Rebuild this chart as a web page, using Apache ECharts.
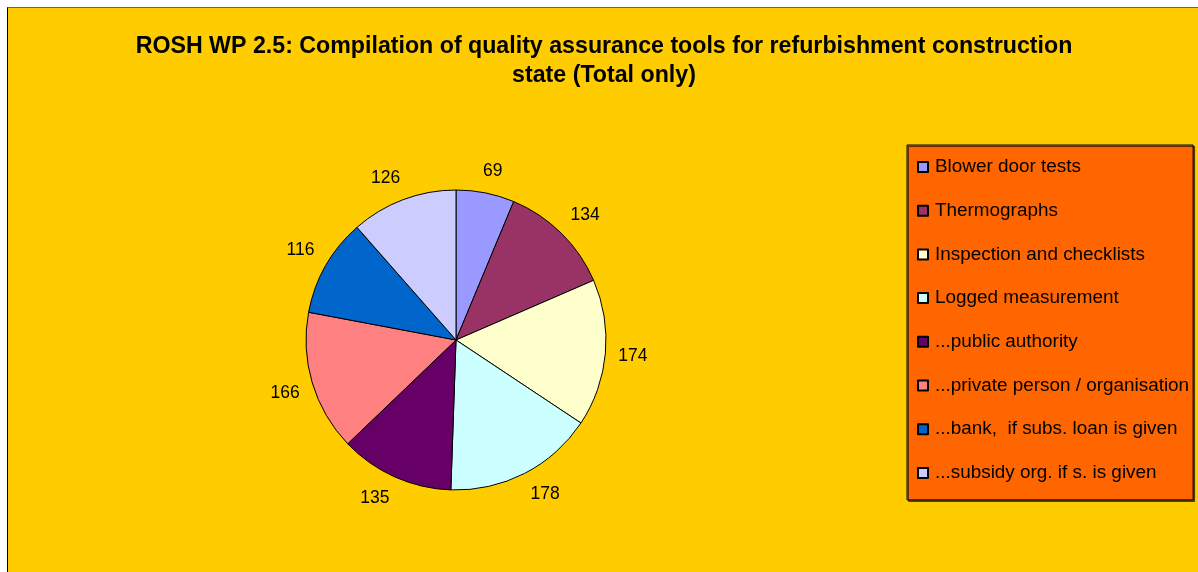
<!DOCTYPE html>
<html>
<head>
<meta charset="utf-8">
<title>ROSH WP 2.5 – quality assurance tools</title>
<script src="https://cdn.jsdelivr.net/npm/echarts@6/dist/echarts.min.js"></script>
<style>
  html, body { margin: 0; padding: 0; background: #ffffff; }
  #frame {
    position: absolute; left: 7px; top: 7px; width: 1200px; height: 580px;
    background: #FFCC00; border-left: 1px solid #000000; border-top: 1px solid #666666;
  }
  #chart { position: absolute; left: 0; top: 0; width: 1198px; height: 572px; }
</style>
</head>
<body>
<div id="frame"></div>
<div id="chart"></div>
<script>
// Survey answers (total only), in clockwise order from 12 o'clock
const categories = [
  'Blower door tests',
  'Thermographs',
  'Inspection and checklists',
  'Logged measurement',
  '...public authority',
  '...private person / organisation',
  '...bank,  if subs. loan is given',
  '...subsidy org. if s. is given'
];
const counts = [69, 134, 174, 178, 135, 166, 116, 126];
const sliceColors = ['#9999FF', '#993366', '#FFFFCC', '#CCFFFF', '#660066', '#FF8080', '#0066CC', '#CCCCFF'];
const chartTitle = 'ROSH WP 2.5: Compilation of quality assurance tools for refurbishment construction\nstate (Total only)';

const FONT = '"Liberation Sans", Arial, Helvetica, sans-serif';
const PIE_CX = 456, PIE_CY = 340, PIE_R = 150;
const LABEL_R = 163;

const total = counts.reduce((a, b) => a + b, 0);
function midAngle(idx) {
  let before = 0;
  for (let i = 0; i < idx; i++) before += counts[i];
  return (before + counts[idx] / 2) / total * Math.PI * 2;
}
const clamp = v => Math.max(-1, Math.min(1, v));

const chart = echarts.init(document.getElementById('chart'));
chart.setOption({
  backgroundColor: 'transparent',
  animation: false,
  title: {
    text: chartTitle,
    left: 604,
    top: 32,
    padding: 0,
    textAlign: 'center',
    textStyle: { fontFamily: FONT, fontSize: 23.2, fontWeight: 'bold', color: '#000', lineHeight: 29 }
  },
  legend: {
    orient: 'vertical',
    left: 907,
    top: 145,
    padding: [12, 4, 17, 10],
    itemWidth: 10,
    itemHeight: 10,
    itemGap: 23.7,
    icon: 'rect',
    backgroundColor: '#FF6600',
    borderColor: '#000000',
    borderWidth: 1,
    shadowColor: 'rgba(0,0,0,0.6)',
    shadowOffsetX: 1.5,
    shadowOffsetY: 1.5,
    shadowBlur: 0,
    textStyle: { fontFamily: FONT, fontSize: 18.9, color: '#000', lineHeight: 20, padding: [0, 0, 0, 2] },
    data: categories
  },
  series: [{
    type: 'pie',
    center: [PIE_CX, PIE_CY],
    radius: PIE_R,
    startAngle: 90,
    clockwise: true,
    avoidLabelOverlap: false,
    itemStyle: { borderColor: '#000000', borderWidth: 1 },
    label: {
      show: true,
      position: 'outside',
      formatter: '{c}',
      fontFamily: FONT,
      fontSize: 17.5,
      color: '#000'
    },
    labelLine: { show: false },
    // each value sits just beyond the rim, its box nudged away from the centre
    labelLayout: function (p) {
      const a = midAngle(p.dataIndex);
      const s = Math.sin(a), c = Math.cos(a);
      const w = p.labelRect.width, h = p.labelRect.height;
      return {
        x: PIE_CX + LABEL_R * s + w / 2 * clamp(2.5 * s),
        y: PIE_CY - LABEL_R * c - h / 2 * clamp(2.5 * c),
        align: 'center',
        verticalAlign: 'middle'
      };
    },
    emphasis: { disabled: true },
    data: categories.map((name, i) => ({
      name: name,
      value: counts[i],
      itemStyle: { color: sliceColors[i] }
    }))
  }]
});
</script>
</body>
</html>
